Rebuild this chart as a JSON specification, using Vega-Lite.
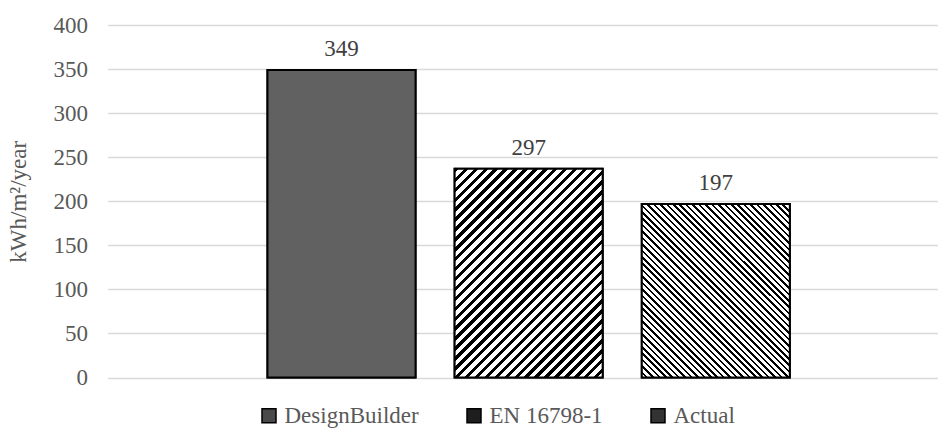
{
 "$schema": "https://vega.github.io/schema/vega-lite/v6.json",
 "width": 830,
 "height": 352.5,
 "autosize": {"type": "none"},
 "padding": {"left": 107.5, "top": 25, "right": 1.5, "bottom": 56.5},
 "background": "white",
 "config": {"view": {"stroke": null}, "font": "Liberation Serif"},
 "data": {"values": [
  {"series": "DesignBuilder", "value": 349, "label": "349"},
  {"series": "EN 16798-1", "value": 237, "label": "297"},
  {"series": "Actual", "value": 197, "label": "197"}
 ]},
 "encoding": {
  "x": {"field": "series", "type": "nominal", "scale": {"domain": ["DesignBuilder", "EN 16798-1", "Actual"], "paddingInner": 0.209, "paddingOuter": 0.822, "align": 0.52}, "axis": null},
  "y": {"field": "value", "type": "quantitative", "scale": {"domain": [0, 400]}, "axis": {
   "title": "kWh/m²/year", "values": [0, 50, 100, 150, 200, 250, 300, 350, 400],
   "domain": false, "ticks": false, "grid": true, "gridColor": "#d9d9d9", "gridWidth": 1.5,
   "labelFont": "Liberation Serif", "labelFontSize": 23, "labelColor": "#595959", "labelPadding": 20,
   "titleFont": "Liberation Serif", "titleFontSize": 23, "titleFontWeight": "normal", "titleColor": "#595959", "titlePadding": 23
  }}
 },
 "layer": [
  {
   "mark": {"type": "bar", "stroke": "#000", "strokeWidth": 2},
   "encoding": {"color": {"field": "series", "type": "nominal",
    "scale": {"domain": ["DesignBuilder", "EN 16798-1", "Actual"], "range": ["#4a4a4a", "#1e1e1e", "#333333"]},
    "legend": {"title": null, "orient": "none", "direction": "horizontal", "legendX": 150, "legendY": 379,
     "symbolType": "square", "symbolSize": 196, "symbolStrokeColor": "#000", "symbolStrokeWidth": 1.5,
     "labelFont": "Liberation Serif", "labelFontSize": 23, "labelColor": "#595959", "labelOffset": 4,
     "columnPadding": 43, "padding": 0, "labelLimit": 300}}}
  },
  {
   "transform": [{"filter": "datum.series === 'DesignBuilder'"}],
   "mark": {"type": "bar", "fill": "#616161", "stroke": "#000", "strokeWidth": 2}
  },
  {
   "transform": [{"filter": "datum.series === 'EN 16798-1'"}],
   "mark": {"type": "bar", "stroke": "#000", "strokeWidth": 2, "fill": {"gradient": "linear", "x1": 0, "y1": 0, "x2": 0.806, "y2": 1.138, "stops": [
    {"offset": 0, "color": "#000"}, {"offset": 0.0125, "color": "#000"}, {"offset": 0.0125, "color": "#fff"}, {"offset": 0.0278, "color": "#fff"},
    {"offset": 0.0278, "color": "#000"}, {"offset": 0.0403, "color": "#000"}, {"offset": 0.0403, "color": "#fff"}, {"offset": 0.0556, "color": "#fff"},
    {"offset": 0.0556, "color": "#000"}, {"offset": 0.0681, "color": "#000"}, {"offset": 0.0681, "color": "#fff"}, {"offset": 0.0833, "color": "#fff"},
    {"offset": 0.0833, "color": "#000"}, {"offset": 0.0958, "color": "#000"}, {"offset": 0.0958, "color": "#fff"}, {"offset": 0.1111, "color": "#fff"},
    {"offset": 0.1111, "color": "#000"}, {"offset": 0.1236, "color": "#000"}, {"offset": 0.1236, "color": "#fff"}, {"offset": 0.1389, "color": "#fff"},
    {"offset": 0.1389, "color": "#000"}, {"offset": 0.1514, "color": "#000"}, {"offset": 0.1514, "color": "#fff"}, {"offset": 0.1667, "color": "#fff"},
    {"offset": 0.1667, "color": "#000"}, {"offset": 0.1792, "color": "#000"}, {"offset": 0.1792, "color": "#fff"}, {"offset": 0.1944, "color": "#fff"},
    {"offset": 0.1944, "color": "#000"}, {"offset": 0.2069, "color": "#000"}, {"offset": 0.2069, "color": "#fff"}, {"offset": 0.2222, "color": "#fff"},
    {"offset": 0.2222, "color": "#000"}, {"offset": 0.2347, "color": "#000"}, {"offset": 0.2347, "color": "#fff"}, {"offset": 0.25, "color": "#fff"},
    {"offset": 0.25, "color": "#000"}, {"offset": 0.2625, "color": "#000"}, {"offset": 0.2625, "color": "#fff"}, {"offset": 0.2778, "color": "#fff"},
    {"offset": 0.2778, "color": "#000"}, {"offset": 0.2903, "color": "#000"}, {"offset": 0.2903, "color": "#fff"}, {"offset": 0.3056, "color": "#fff"},
    {"offset": 0.3056, "color": "#000"}, {"offset": 0.3181, "color": "#000"}, {"offset": 0.3181, "color": "#fff"}, {"offset": 0.3333, "color": "#fff"},
    {"offset": 0.3333, "color": "#000"}, {"offset": 0.3458, "color": "#000"}, {"offset": 0.3458, "color": "#fff"}, {"offset": 0.3611, "color": "#fff"},
    {"offset": 0.3611, "color": "#000"}, {"offset": 0.3736, "color": "#000"}, {"offset": 0.3736, "color": "#fff"}, {"offset": 0.3889, "color": "#fff"},
    {"offset": 0.3889, "color": "#000"}, {"offset": 0.4014, "color": "#000"}, {"offset": 0.4014, "color": "#fff"}, {"offset": 0.4167, "color": "#fff"},
    {"offset": 0.4167, "color": "#000"}, {"offset": 0.4292, "color": "#000"}, {"offset": 0.4292, "color": "#fff"}, {"offset": 0.4444, "color": "#fff"},
    {"offset": 0.4444, "color": "#000"}, {"offset": 0.4569, "color": "#000"}, {"offset": 0.4569, "color": "#fff"}, {"offset": 0.4722, "color": "#fff"},
    {"offset": 0.4722, "color": "#000"}, {"offset": 0.4847, "color": "#000"}, {"offset": 0.4847, "color": "#fff"}, {"offset": 0.5, "color": "#fff"},
    {"offset": 0.5, "color": "#000"}, {"offset": 0.5125, "color": "#000"}, {"offset": 0.5125, "color": "#fff"}, {"offset": 0.5278, "color": "#fff"},
    {"offset": 0.5278, "color": "#000"}, {"offset": 0.5403, "color": "#000"}, {"offset": 0.5403, "color": "#fff"}, {"offset": 0.5556, "color": "#fff"},
    {"offset": 0.5556, "color": "#000"}, {"offset": 0.5681, "color": "#000"}, {"offset": 0.5681, "color": "#fff"}, {"offset": 0.5833, "color": "#fff"},
    {"offset": 0.5833, "color": "#000"}, {"offset": 0.5958, "color": "#000"}, {"offset": 0.5958, "color": "#fff"}, {"offset": 0.6111, "color": "#fff"},
    {"offset": 0.6111, "color": "#000"}, {"offset": 0.6236, "color": "#000"}, {"offset": 0.6236, "color": "#fff"}, {"offset": 0.6389, "color": "#fff"},
    {"offset": 0.6389, "color": "#000"}, {"offset": 0.6514, "color": "#000"}, {"offset": 0.6514, "color": "#fff"}, {"offset": 0.6667, "color": "#fff"},
    {"offset": 0.6667, "color": "#000"}, {"offset": 0.6792, "color": "#000"}, {"offset": 0.6792, "color": "#fff"}, {"offset": 0.6944, "color": "#fff"},
    {"offset": 0.6944, "color": "#000"}, {"offset": 0.7069, "color": "#000"}, {"offset": 0.7069, "color": "#fff"}, {"offset": 0.7222, "color": "#fff"},
    {"offset": 0.7222, "color": "#000"}, {"offset": 0.7347, "color": "#000"}, {"offset": 0.7347, "color": "#fff"}, {"offset": 0.75, "color": "#fff"},
    {"offset": 0.75, "color": "#000"}, {"offset": 0.7625, "color": "#000"}, {"offset": 0.7625, "color": "#fff"}, {"offset": 0.7778, "color": "#fff"},
    {"offset": 0.7778, "color": "#000"}, {"offset": 0.7903, "color": "#000"}, {"offset": 0.7903, "color": "#fff"}, {"offset": 0.8056, "color": "#fff"},
    {"offset": 0.8056, "color": "#000"}, {"offset": 0.8181, "color": "#000"}, {"offset": 0.8181, "color": "#fff"}, {"offset": 0.8333, "color": "#fff"},
    {"offset": 0.8333, "color": "#000"}, {"offset": 0.8458, "color": "#000"}, {"offset": 0.8458, "color": "#fff"}, {"offset": 0.8611, "color": "#fff"},
    {"offset": 0.8611, "color": "#000"}, {"offset": 0.8736, "color": "#000"}, {"offset": 0.8736, "color": "#fff"}, {"offset": 0.8889, "color": "#fff"},
    {"offset": 0.8889, "color": "#000"}, {"offset": 0.9014, "color": "#000"}, {"offset": 0.9014, "color": "#fff"}, {"offset": 0.9167, "color": "#fff"},
    {"offset": 0.9167, "color": "#000"}, {"offset": 0.9292, "color": "#000"}, {"offset": 0.9292, "color": "#fff"}, {"offset": 0.9444, "color": "#fff"},
    {"offset": 0.9444, "color": "#000"}, {"offset": 0.9569, "color": "#000"}, {"offset": 0.9569, "color": "#fff"}, {"offset": 0.9722, "color": "#fff"},
    {"offset": 0.9722, "color": "#000"}, {"offset": 0.9847, "color": "#000"}, {"offset": 0.9847, "color": "#fff"}, {"offset": 1, "color": "#fff"}
   ]}}
  },
  {
   "transform": [{"filter": "datum.series === 'Actual'"}],
   "mark": {"type": "bar", "stroke": "#000", "strokeWidth": 2, "fill": {"gradient": "linear", "x1": 1, "y1": 0, "x2": 0.0854, "y2": 1.0728, "stops": [
    {"offset": 0, "color": "#000"}, {"offset": 0.008, "color": "#000"}, {"offset": 0.008, "color": "#fff"}, {"offset": 0.02, "color": "#fff"},
    {"offset": 0.02, "color": "#000"}, {"offset": 0.028, "color": "#000"}, {"offset": 0.028, "color": "#fff"}, {"offset": 0.04, "color": "#fff"},
    {"offset": 0.04, "color": "#000"}, {"offset": 0.048, "color": "#000"}, {"offset": 0.048, "color": "#fff"}, {"offset": 0.06, "color": "#fff"},
    {"offset": 0.06, "color": "#000"}, {"offset": 0.068, "color": "#000"}, {"offset": 0.068, "color": "#fff"}, {"offset": 0.08, "color": "#fff"},
    {"offset": 0.08, "color": "#000"}, {"offset": 0.088, "color": "#000"}, {"offset": 0.088, "color": "#fff"}, {"offset": 0.1, "color": "#fff"},
    {"offset": 0.1, "color": "#000"}, {"offset": 0.108, "color": "#000"}, {"offset": 0.108, "color": "#fff"}, {"offset": 0.12, "color": "#fff"},
    {"offset": 0.12, "color": "#000"}, {"offset": 0.128, "color": "#000"}, {"offset": 0.128, "color": "#fff"}, {"offset": 0.14, "color": "#fff"},
    {"offset": 0.14, "color": "#000"}, {"offset": 0.148, "color": "#000"}, {"offset": 0.148, "color": "#fff"}, {"offset": 0.16, "color": "#fff"},
    {"offset": 0.16, "color": "#000"}, {"offset": 0.168, "color": "#000"}, {"offset": 0.168, "color": "#fff"}, {"offset": 0.18, "color": "#fff"},
    {"offset": 0.18, "color": "#000"}, {"offset": 0.188, "color": "#000"}, {"offset": 0.188, "color": "#fff"}, {"offset": 0.2, "color": "#fff"},
    {"offset": 0.2, "color": "#000"}, {"offset": 0.208, "color": "#000"}, {"offset": 0.208, "color": "#fff"}, {"offset": 0.22, "color": "#fff"},
    {"offset": 0.22, "color": "#000"}, {"offset": 0.228, "color": "#000"}, {"offset": 0.228, "color": "#fff"}, {"offset": 0.24, "color": "#fff"},
    {"offset": 0.24, "color": "#000"}, {"offset": 0.248, "color": "#000"}, {"offset": 0.248, "color": "#fff"}, {"offset": 0.26, "color": "#fff"},
    {"offset": 0.26, "color": "#000"}, {"offset": 0.268, "color": "#000"}, {"offset": 0.268, "color": "#fff"}, {"offset": 0.28, "color": "#fff"},
    {"offset": 0.28, "color": "#000"}, {"offset": 0.288, "color": "#000"}, {"offset": 0.288, "color": "#fff"}, {"offset": 0.3, "color": "#fff"},
    {"offset": 0.3, "color": "#000"}, {"offset": 0.308, "color": "#000"}, {"offset": 0.308, "color": "#fff"}, {"offset": 0.32, "color": "#fff"},
    {"offset": 0.32, "color": "#000"}, {"offset": 0.328, "color": "#000"}, {"offset": 0.328, "color": "#fff"}, {"offset": 0.34, "color": "#fff"},
    {"offset": 0.34, "color": "#000"}, {"offset": 0.348, "color": "#000"}, {"offset": 0.348, "color": "#fff"}, {"offset": 0.36, "color": "#fff"},
    {"offset": 0.36, "color": "#000"}, {"offset": 0.368, "color": "#000"}, {"offset": 0.368, "color": "#fff"}, {"offset": 0.38, "color": "#fff"},
    {"offset": 0.38, "color": "#000"}, {"offset": 0.388, "color": "#000"}, {"offset": 0.388, "color": "#fff"}, {"offset": 0.4, "color": "#fff"},
    {"offset": 0.4, "color": "#000"}, {"offset": 0.408, "color": "#000"}, {"offset": 0.408, "color": "#fff"}, {"offset": 0.42, "color": "#fff"},
    {"offset": 0.42, "color": "#000"}, {"offset": 0.428, "color": "#000"}, {"offset": 0.428, "color": "#fff"}, {"offset": 0.44, "color": "#fff"},
    {"offset": 0.44, "color": "#000"}, {"offset": 0.448, "color": "#000"}, {"offset": 0.448, "color": "#fff"}, {"offset": 0.46, "color": "#fff"},
    {"offset": 0.46, "color": "#000"}, {"offset": 0.468, "color": "#000"}, {"offset": 0.468, "color": "#fff"}, {"offset": 0.48, "color": "#fff"},
    {"offset": 0.48, "color": "#000"}, {"offset": 0.488, "color": "#000"}, {"offset": 0.488, "color": "#fff"}, {"offset": 0.5, "color": "#fff"},
    {"offset": 0.5, "color": "#000"}, {"offset": 0.508, "color": "#000"}, {"offset": 0.508, "color": "#fff"}, {"offset": 0.52, "color": "#fff"},
    {"offset": 0.52, "color": "#000"}, {"offset": 0.528, "color": "#000"}, {"offset": 0.528, "color": "#fff"}, {"offset": 0.54, "color": "#fff"},
    {"offset": 0.54, "color": "#000"}, {"offset": 0.548, "color": "#000"}, {"offset": 0.548, "color": "#fff"}, {"offset": 0.56, "color": "#fff"},
    {"offset": 0.56, "color": "#000"}, {"offset": 0.568, "color": "#000"}, {"offset": 0.568, "color": "#fff"}, {"offset": 0.58, "color": "#fff"},
    {"offset": 0.58, "color": "#000"}, {"offset": 0.588, "color": "#000"}, {"offset": 0.588, "color": "#fff"}, {"offset": 0.6, "color": "#fff"},
    {"offset": 0.6, "color": "#000"}, {"offset": 0.608, "color": "#000"}, {"offset": 0.608, "color": "#fff"}, {"offset": 0.62, "color": "#fff"},
    {"offset": 0.62, "color": "#000"}, {"offset": 0.628, "color": "#000"}, {"offset": 0.628, "color": "#fff"}, {"offset": 0.64, "color": "#fff"},
    {"offset": 0.64, "color": "#000"}, {"offset": 0.648, "color": "#000"}, {"offset": 0.648, "color": "#fff"}, {"offset": 0.66, "color": "#fff"},
    {"offset": 0.66, "color": "#000"}, {"offset": 0.668, "color": "#000"}, {"offset": 0.668, "color": "#fff"}, {"offset": 0.68, "color": "#fff"},
    {"offset": 0.68, "color": "#000"}, {"offset": 0.688, "color": "#000"}, {"offset": 0.688, "color": "#fff"}, {"offset": 0.7, "color": "#fff"},
    {"offset": 0.7, "color": "#000"}, {"offset": 0.708, "color": "#000"}, {"offset": 0.708, "color": "#fff"}, {"offset": 0.72, "color": "#fff"},
    {"offset": 0.72, "color": "#000"}, {"offset": 0.728, "color": "#000"}, {"offset": 0.728, "color": "#fff"}, {"offset": 0.74, "color": "#fff"},
    {"offset": 0.74, "color": "#000"}, {"offset": 0.748, "color": "#000"}, {"offset": 0.748, "color": "#fff"}, {"offset": 0.76, "color": "#fff"},
    {"offset": 0.76, "color": "#000"}, {"offset": 0.768, "color": "#000"}, {"offset": 0.768, "color": "#fff"}, {"offset": 0.78, "color": "#fff"},
    {"offset": 0.78, "color": "#000"}, {"offset": 0.788, "color": "#000"}, {"offset": 0.788, "color": "#fff"}, {"offset": 0.8, "color": "#fff"},
    {"offset": 0.8, "color": "#000"}, {"offset": 0.808, "color": "#000"}, {"offset": 0.808, "color": "#fff"}, {"offset": 0.82, "color": "#fff"},
    {"offset": 0.82, "color": "#000"}, {"offset": 0.828, "color": "#000"}, {"offset": 0.828, "color": "#fff"}, {"offset": 0.84, "color": "#fff"},
    {"offset": 0.84, "color": "#000"}, {"offset": 0.848, "color": "#000"}, {"offset": 0.848, "color": "#fff"}, {"offset": 0.86, "color": "#fff"},
    {"offset": 0.86, "color": "#000"}, {"offset": 0.868, "color": "#000"}, {"offset": 0.868, "color": "#fff"}, {"offset": 0.88, "color": "#fff"},
    {"offset": 0.88, "color": "#000"}, {"offset": 0.888, "color": "#000"}, {"offset": 0.888, "color": "#fff"}, {"offset": 0.9, "color": "#fff"},
    {"offset": 0.9, "color": "#000"}, {"offset": 0.908, "color": "#000"}, {"offset": 0.908, "color": "#fff"}, {"offset": 0.92, "color": "#fff"},
    {"offset": 0.92, "color": "#000"}, {"offset": 0.928, "color": "#000"}, {"offset": 0.928, "color": "#fff"}, {"offset": 0.94, "color": "#fff"},
    {"offset": 0.94, "color": "#000"}, {"offset": 0.948, "color": "#000"}, {"offset": 0.948, "color": "#fff"}, {"offset": 0.96, "color": "#fff"},
    {"offset": 0.96, "color": "#000"}, {"offset": 0.968, "color": "#000"}, {"offset": 0.968, "color": "#fff"}, {"offset": 0.98, "color": "#fff"},
    {"offset": 0.98, "color": "#000"}, {"offset": 0.988, "color": "#000"}, {"offset": 0.988, "color": "#fff"}, {"offset": 1, "color": "#fff"}
   ]}}
  },
  {
   "mark": {"type": "text", "dy": -14, "baseline": "alphabetic", "fontSize": 23, "color": "#404040", "font": "Liberation Serif"},
   "encoding": {"text": {"field": "label"}}
  }
 ]
}
